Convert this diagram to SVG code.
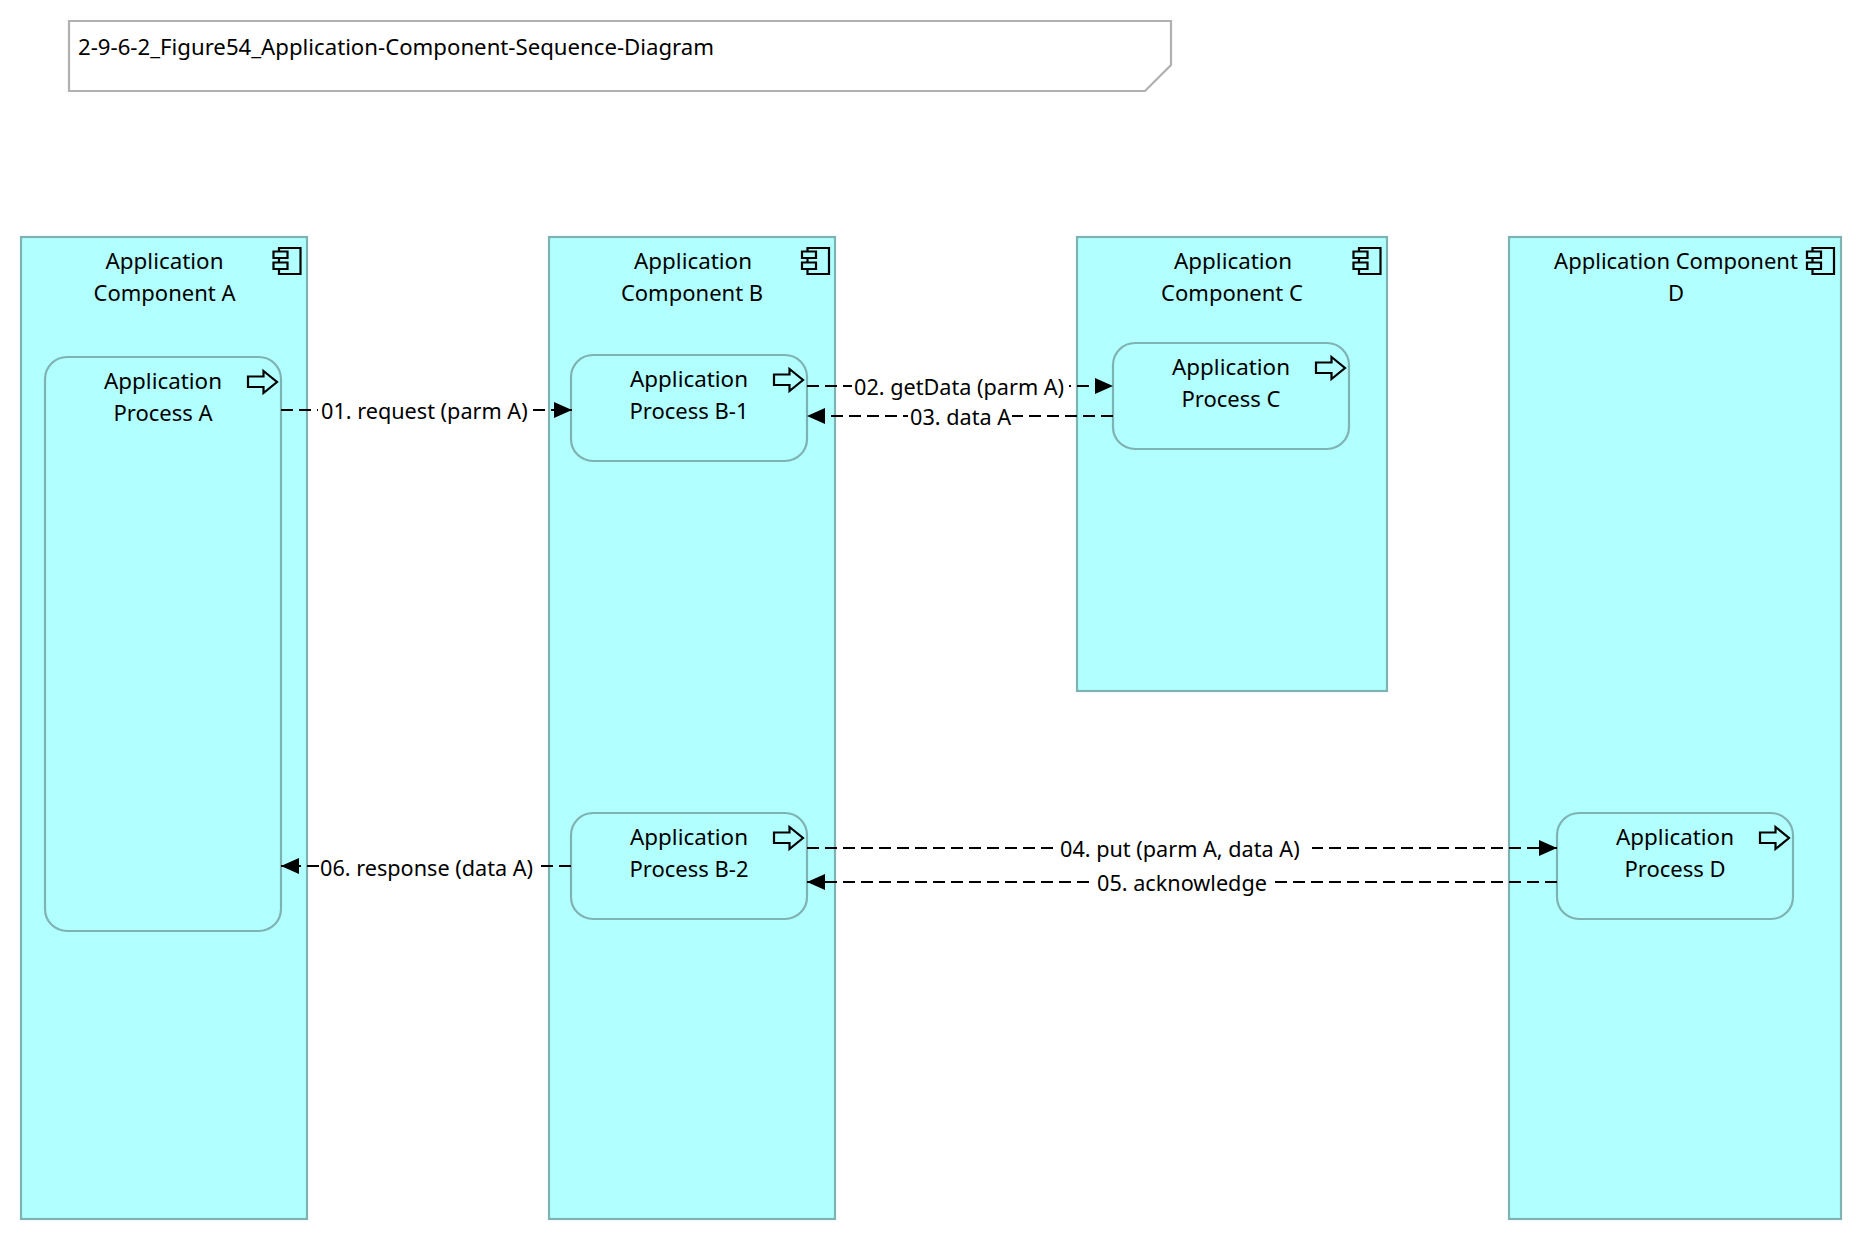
<svg xmlns="http://www.w3.org/2000/svg" width="1864" height="1242" viewBox="0 0 1864 1242">
<style>
text{font-family:"Noto Sans","Open Sans","Liberation Sans",sans-serif;font-size:22px;fill:#000}
.m{text-anchor:middle}
.a{font-size:22.400px}
.t{font-size:22.200px}
.c{font-size:21.650px}
.comp{fill:#b2ffff;stroke:#7fb2b2;stroke-width:2.200}
.proc{fill:#b2ffff;stroke:#7fb2b2;stroke-width:2.200}
.note{fill:#fff;stroke:#b0b0b0;stroke-width:2.200}
.icon{fill:none;stroke:#000;stroke-width:2.200}
.flow{fill:none;stroke:#000;stroke-width:2.200;stroke-dasharray:12 6}
.lb{fill:#fff;stroke:none}
</style>
<defs>
<marker id="ah" markerUnits="userSpaceOnUse" markerWidth="19" markerHeight="16" refX="18" refY="8" orient="auto-start-reverse"><path d="M0 0L18 8L0 16Z" fill="#000"/></marker>
<g id="ci"><path class="icon" d="M-16 -2.500V-6H5.500V20H-16V15"/><path class="icon" d="M-21.500 -2.500H-7.500V4H-21.500ZM-21.500 8.500H-7.500V15H-21.500Z"/><path class="icon" d="M-16 4V8.500"/></g>
<path id="pi" class="icon" d="M0 5.500H15.500V0L29 11L15.500 22V16H0Z"/>
</defs>
<g id="note"><path class="note" d="M69 21H1171V65L1145 91H69Z"/><text class="t" x="78" y="55">2-9-6-2_Figure54_Application-Component-Sequence-Diagram</text></g>
<g id="component-a"><rect class="comp" x="21" y="237" width="286" height="982"/><use href="#ci" x="295" y="254"/><text class="m a" x="164.500" y="269">Application</text><text class="m" x="164.500" y="301">Component A</text></g>
<g id="component-b"><rect class="comp" x="549" y="237" width="286" height="982"/><use href="#ci" x="823.500" y="254"/><text class="m a" x="693" y="269">Application</text><text class="m" x="692" y="301">Component B</text></g>
<g id="component-c"><rect class="comp" x="1077" y="237" width="310" height="454"/><use href="#ci" x="1375" y="254"/><text class="m a" x="1233" y="269">Application</text><text class="m" x="1232" y="301">Component C</text></g>
<g id="component-d"><rect class="comp" x="1509" y="237" width="332" height="982"/><use href="#ci" x="1828.500" y="254"/><text class="m" x="1676" y="269">Application Component</text><text class="m" x="1676" y="301">D</text></g>
<g id="process-a"><rect class="proc" x="45" y="357" width="236" height="574" rx="22"/><use href="#pi" x="248" y="371"/><text class="m a" x="163" y="389">Application</text><text class="m" x="163" y="421">Process A</text></g>
<g id="process-b1"><rect class="proc" x="571" y="355" width="236" height="106" rx="22"/><use href="#pi" x="774" y="369"/><text class="m a" x="689" y="387">Application</text><text class="m" x="689" y="419">Process B-1</text></g>
<g id="process-c"><rect class="proc" x="1113" y="343" width="236" height="106" rx="22"/><use href="#pi" x="1316" y="357"/><text class="m a" x="1231" y="375">Application</text><text class="m" x="1231" y="407">Process C</text></g>
<g id="process-b2"><rect class="proc" x="571" y="813" width="236" height="106" rx="22"/><use href="#pi" x="774" y="827"/><text class="m a" x="689" y="845">Application</text><text class="m" x="689" y="877">Process B-2</text></g>
<g id="process-d"><rect class="proc" x="1557" y="813" width="236" height="106" rx="22"/><use href="#pi" x="1760" y="827"/><text class="m a" x="1675" y="845">Application</text><text class="m" x="1675" y="877">Process D</text></g>
<g id="connectors">
<path class="flow" d="M281 410H572" marker-end="url(#ah)"/><rect class="lb" x="318" y="395" width="213" height="30"/>
<path class="flow" d="M807 386H1113" marker-end="url(#ah)"/><rect class="lb" x="852" y="371" width="217" height="30"/>
<path class="flow" d="M1113 416H807" marker-end="url(#ah)"/><rect class="lb" x="908" y="401" width="104" height="30"/>
<path class="flow" d="M807 848H1557" marker-end="url(#ah)"/><rect class="lb" x="1058" y="833" width="254" height="30"/>
<path class="flow" d="M1557 882H807" marker-end="url(#ah)"/><rect class="lb" x="1092" y="867" width="180" height="30"/>
<path class="flow" d="M571 866H281" marker-end="url(#ah)"/><rect class="lb" x="319" y="851" width="218" height="30"/>
</g>
<g id="labels">
<text class="c" x="321" y="418.500">01. request (parm A)</text>
<text class="c" x="854" y="394.500">02. getData (parm A)</text>
<text class="c" x="910" y="424.500">03. data A</text>
<text class="c" x="1060" y="857">04. put (parm A, data A)</text>
<text class="c" x="1097" y="891">05. acknowledge</text>
<text class="c" x="320" y="875.500">06. response (data A)</text>
</g>
</svg>
